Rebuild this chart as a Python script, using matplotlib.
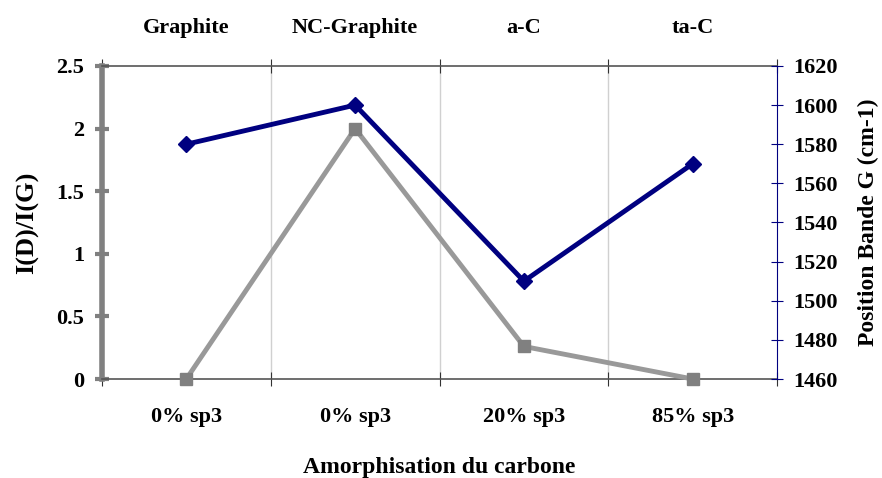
import matplotlib
matplotlib.use('Agg')
import matplotlib.pyplot as plt

# values
materials = ['Graphite', 'NC-Graphite', 'a-C', 'ta-C']
sp3_labels = ['0% sp3', '0% sp3', '20% sp3', '85% sp3']
ratio_id_ig = [0, 2.0, 0.26, 0]
band_g_pos = [1580, 1600, 1510, 1570]

plt.rcParams['font.family'] = ['Liberation Serif', 'DejaVu Serif']
plt.rcParams['font.weight'] = 'bold'

fig = plt.figure(figsize=(8.82, 4.78), dpi=100)
ax = fig.add_axes([0.1156, 0.2071, 0.7654, 0.6549])
ax2 = ax.twinx()

x = range(len(materials))

ax.plot(x, ratio_id_ig, color='#999999', lw=3.5, marker='s', ms=9,
        mfc='#808080', mec='#808080', zorder=3, clip_on=False)
ax2.plot(x, band_g_pos, color='#000080', lw=3.5, marker='D', ms=8,
         mfc='#000080', mec='#000080', zorder=3, clip_on=False)

ax.set_xlim(-0.5, 3.5)
ax.set_ylim(0, 2.5)
ax.set_yticks([0, 0.5, 1, 1.5, 2, 2.5])
ax.set_yticklabels(['0', '0.5', '1', '1.5', '2', '2.5'])
ax2.set_ylim(1460, 1620)
ax2.set_yticks(range(1460, 1621, 20))

# category boundaries carry the ticks and grid, labels sit in the middle
bounds = [-0.5, 0.5, 1.5, 2.5, 3.5]
ax.set_xticks(bounds)
ax.set_xticklabels([])
ax.set_xticks(list(x), minor=True)
ax.set_xticklabels(sp3_labels, minor=True)
ax.tick_params(axis='x', which='minor', length=0, pad=20, labelsize=16)
ax.tick_params(axis='x', which='major', direction='inout', length=10,
               color='#333333', top=True)
for b in bounds[1:-1]:
    ax.axvline(b, color='#d0d0d0', lw=1, zorder=0)

top = ax.secondary_xaxis('top')
top.set_xticks(list(x))
top.set_xticklabels(materials)
top.tick_params(length=0, pad=20, labelsize=16)
top.spines['top'].set_visible(False)

ax.spines['left'].set_color('#808080')
ax.spines['left'].set_linewidth(4)
ax.spines['bottom'].set_color('#555555')
ax.spines['top'].set_color('#555555')
ax.spines['bottom'].set_linewidth(1.2)
ax.spines['top'].set_linewidth(1.2)
ax.spines['right'].set_visible(False)
ax.tick_params(axis='y', direction='inout', length=10, width=3,
               color='#808080', labelsize=16, pad=8)

for s in ['left', 'top', 'bottom']:
    ax2.spines[s].set_visible(False)
ax2.spines['right'].set_color('#000080')
ax2.spines['right'].set_linewidth(0.8)
ax2.tick_params(axis='y', direction='inout', length=8, width=0.8,
                color='#000080', labelsize=16, pad=8)

ax.set_ylabel('I(D)/I(G)', fontsize=19, fontweight='bold', labelpad=12)
ax2.set_ylabel('Position Bande G (cm-1)', fontsize=17, fontweight='bold', labelpad=14)
ax.set_xlabel('Amorphisation du carbone', fontsize=17, fontweight='bold', labelpad=22)

fig.savefig('out.png', dpi=100)
